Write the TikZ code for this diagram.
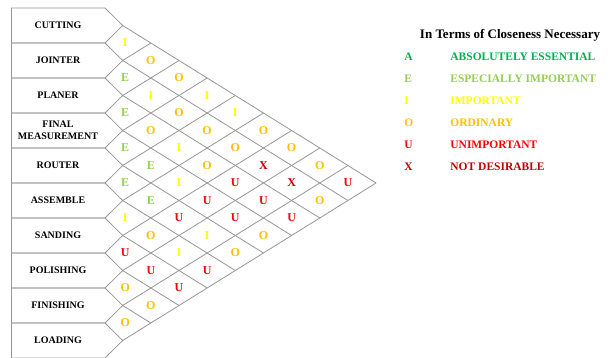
\documentclass[tikz,border=0pt]{standalone}
\usepackage{fontspec}
\setmainfont{Liberation Serif}
\usetikzlibrary{calc}
\definecolor{gridgray}{RGB}{150,150,150}
\definecolor{relA}{RGB}{0,176,80}
\definecolor{relE}{RGB}{146,208,80}
\definecolor{relI}{RGB}{255,255,0}
\definecolor{relO}{RGB}{255,192,0}
\definecolor{relU}{RGB}{255,0,0}
\definecolor{relX}{RGB}{192,0,0}
\newcommand{\tipx}{122.7}
\newcommand{\stepx}{28.15}
\tikzset{%
  dept/.style={font=\bfseries\fontsize{10}{12}\selectfont, align=center},
  rel/.style={font=\bfseries\fontsize{12}{14}\selectfont, inner sep=0pt},
  keyentry/.style={font=\bfseries\fontsize{11.5}{13}\selectfont, anchor=west,
                   inner sep=0pt},
}

\begin{document}
\begin{tikzpicture}[x=1pt, y=-1pt, line width=0.8pt]
\useasboundingbox (0,0) rectangle (616,358);

% department boxes, one per row
\draw[gridgray] (11,8) -- (11,358);
\foreach \i/\name/\txt in {1/cutting/CUTTING, 2/jointer/JOINTER, 3/planer/PLANER,
    4/final/{FINAL\\MEASUREMENT}, 5/router/ROUTER, 6/assemble/ASSEMBLE,
    7/sanding/SANDING, 8/polishing/POLISHING, 9/finishing/FINISHING,
    10/loading/LOADING} {
  \draw[gridgray] (11,35*\i-27) -- (105,35*\i-27) -- (\tipx,35*\i-9.5)
        -- (105,35*\i+8) -- (11,35*\i+8);
  \node[dept] (\name) at (58,35*\i-9.5) {\txt};
}

% diamond grid from the tips of the boxes
\foreach \i in {1,...,10} {
  \draw[gridgray] (\tipx,35*\i-9.5) -- ++({(10-\i)*\stepx},{(10-\i)*17.5});
  \draw[gridgray] (\tipx,35*\i-9.5) -- ++({(\i-1)*\stepx},{-(\i-1)*17.5});
}

% closeness ratings
\foreach \i/\j/\closeness in {1/2/I, 1/3/O, 1/4/O, 1/5/I, 1/6/I, 1/7/O, 1/8/O, 1/9/O, 1/10/U,
    2/3/E, 2/4/I, 2/5/O, 2/6/O, 2/7/O, 2/8/X, 2/9/X, 2/10/O,
    3/4/E, 3/5/O, 3/6/I, 3/7/O, 3/8/U, 3/9/U, 3/10/U,
    4/5/E, 4/6/E, 4/7/I, 4/8/U, 4/9/U, 4/10/O,
    5/6/E, 5/7/E, 5/8/U, 5/9/I, 5/10/O,
    6/7/I, 6/8/O, 6/9/I, 6/10/U,
    7/8/U, 7/9/U, 7/10/U,
    8/9/O, 8/10/O,
    9/10/O} {
  \node[rel, text=rel\closeness] (c\i\j)
    at ({\tipx+(\j-\i-1)*\stepx+(\j-\i==1)*2.5}, {17.5*(\i+\j)-9.5}) {\closeness};
}

% legend
\node[font=\bfseries\fontsize{13}{15}\selectfont] (title) at (510,35)
  {In Terms of Closeness Necessary};
\foreach \k/\code/\desc in {0/A/ABSOLUTELY ESSENTIAL, 1/E/ESPECIALLY IMPORTANT,
    2/I/IMPORTANT, 3/O/ORDINARY, 4/U/UNIMPORTANT, 5/X/NOT DESIRABLE} {
  \node[keyentry, text=rel\code] (key\code) at (404,57+22*\k) {\code};
  \node[keyentry, text=rel\code] (desc\code) at (450,57+22*\k) {\desc};
}

\end{tikzpicture}
\end{document}
